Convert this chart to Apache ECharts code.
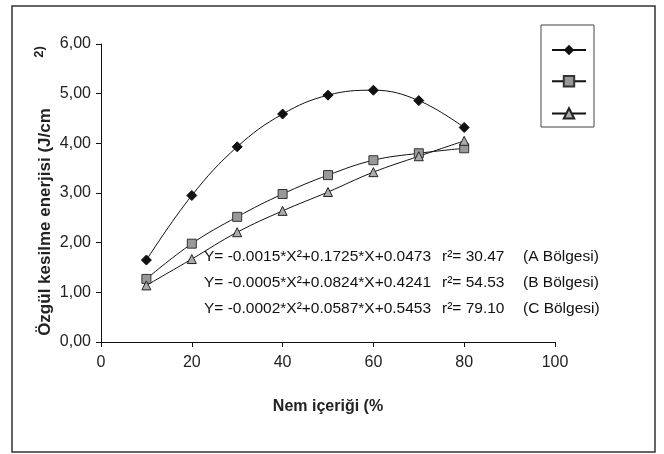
<!DOCTYPE html>
<html>
<head>
<meta charset="utf-8">
<script src="https://cdn.jsdelivr.net/npm/echarts@6/dist/echarts.min.js"></script>
<style>
html,body{margin:0;padding:0;background:#fff;}
#c{width:664px;height:454px;}
</style>
</head>
<body>
<div id="c"></div>
<script>
var xValues = [10, 20, 30, 40, 50, 60, 70, 80];
var seriesA = [1.65, 2.95, 3.93, 4.59, 4.97, 5.07, 4.86, 4.32];
var seriesB = [1.27, 1.98, 2.52, 2.98, 3.36, 3.66, 3.80, 3.90];
var seriesC = [1.14, 1.67, 2.21, 2.64, 3.02, 3.42, 3.74, 4.05];
var seriesNames = ['A Bölgesi', 'B Bölgesi', 'C Bölgesi'];
var equations = [
  'Y= -0.0015*X²+0.1725*X+0.0473',
  'Y= -0.0005*X²+0.0824*X+0.4241',
  'Y= -0.0002*X²+0.0587*X+0.5453'
];
var r2Texts = ['r²= 30.47', 'r²= 54.53', 'r²= 79.10'];
var regionTexts = ['(A Bölgesi)', '(B Bölgesi)', '(C Bölgesi)'];
var xAxisName = 'Nem içeriği (%';
var yAxisName = 'Özgül kesilme enerjisi (J/cm';

var FONT = "'Liberation Sans', Arial, sans-serif";
function pairs(vals){ return xValues.map(function(x,i){ return [x, vals[i]]; }); }

var chart = echarts.init(document.getElementById('c'), null, {renderer:'canvas'});

var eqGraphics = [];
var eqY = [258, 284, 310];
equations.forEach(function(t, i){
  eqGraphics.push({type:'text', left:204, top:eqY[i]-9, style:{text:t, font:'15.5px ' + FONT, fill:'#111'}, z:10});
  eqGraphics.push({type:'text', left:442, top:eqY[i]-9, style:{text:r2Texts[i], font:'15.5px ' + FONT, fill:'#111'}, z:10});
  eqGraphics.push({type:'text', left:523, top:eqY[i]-9, style:{text:regionTexts[i], font:'15.5px ' + FONT, fill:'#111'}, z:10});
});

var lineStyle = {color:'#111', width:1};
var option = {
  backgroundColor:'#fff',
  animation:false,
  textStyle:{fontFamily:FONT},
  grid:{left:101, right:109, top:44, bottom:112},
  legend:{
    orient:'vertical', left:546, top:38.5, itemWidth:34, itemHeight:13, itemGap:19.5,
    formatter:function(){ return ''; },
    data:seriesNames, textStyle:{fontSize:1}
  },
  xAxis:{
    type:'value', min:0, max:100, interval:20,
    axisLine:{lineStyle:{color:'#111', width:1}},
    axisTick:{show:true, length:5, lineStyle:{color:'#111'}},
    splitLine:{show:false},
    axisLabel:{color:'#222', fontSize:16, margin:13, fontFamily:FONT},
    name:xAxisName, nameLocation:'middle', nameGap:57,
    nameTextStyle:{color:'#222', fontSize:16, fontWeight:'bold', fontFamily:FONT}
  },
  yAxis:{
    type:'value', min:0, max:6, interval:1,
    axisLine:{show:true, lineStyle:{color:'#111', width:1}},
    axisTick:{show:true, length:5, lineStyle:{color:'#111'}},
    splitLine:{show:false},
    axisLabel:{color:'#222', fontSize:16, margin:10, fontFamily:FONT,
      formatter:function(v){ return v.toFixed(2).replace('.', ','); }}
  },
  graphic:[
    {type:'rect', shape:{x:12, y:6, width:643, height:446}, style:{fill:'none', stroke:'#333', lineWidth:1.5}, z:-1},
    {type:'rect', shape:{x:541, y:25, width:53, height:102}, style:{fill:'#fff', stroke:'#444', lineWidth:1}, z:-1},
    {type:'text', x:45, y:222, rotation:Math.PI/2,
      style:{text:yAxisName, font:'bold 17px ' + FONT, fill:'#222', textAlign:'center', textVerticalAlign:'middle'}},
    {type:'text', x:39, y:52, rotation:Math.PI/2,
      style:{text:'2)', font:'bold 13px ' + FONT, fill:'#222', textAlign:'center', textVerticalAlign:'middle'}}
  ].concat(eqGraphics),
  series:[
    {name:seriesNames[0], type:'line', smooth:0.4, data:pairs(seriesA), symbol:'diamond', symbolSize:10,
      lineStyle:lineStyle, itemStyle:{color:'#111', borderColor:'#111'}},
    {name:seriesNames[1], type:'line', smooth:0.4, data:pairs(seriesB), symbol:'rect', symbolSize:9,
      lineStyle:lineStyle, itemStyle:{color:'#999', borderColor:'#333', borderWidth:1}},
    {name:seriesNames[2], type:'line', smooth:0.4, data:pairs(seriesC), symbol:'triangle', symbolSize:9,
      lineStyle:lineStyle, itemStyle:{color:'#aaa', borderColor:'#222', borderWidth:1}}
  ]
};
chart.setOption(option);
</script>
</body>
</html>
